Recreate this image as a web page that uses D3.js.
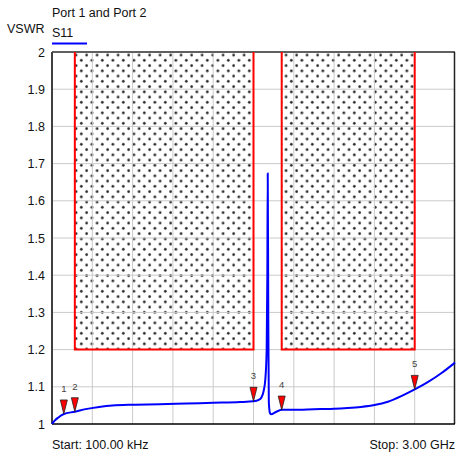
<!DOCTYPE html>
<html>
<head>
<meta charset="utf-8">
<script src="https://cdn.jsdelivr.net/npm/d3@7"></script>
<style>
  body { margin: 0; background: #fff; }
  svg { display: block; font-family: 'Liberation Sans', Arial, sans-serif; }
</style>
</head>
<body>
<div id="chart"></div>
<script>
// trace S11, frequency in MHz
var freq = [0.1, 20, 45, 88, 170, 250, 350, 450, 600, 800, 1000, 1200, 1400, 1500,
    1540, 1560, 1575, 1588, 1598, 1603, 1606, 1610, 1614, 1622, 1630, 1670, 1715,
    1800, 1900, 2000, 2100, 2200, 2300, 2400, 2500, 2600, 2700, 2800, 2900, 3000];
var vswr = [1.000, 1.009, 1.017, 1.027, 1.033, 1.040, 1.046, 1.050, 1.052, 1.053, 1.055, 1.057, 1.059, 1.061,
    1.065, 1.072, 1.088, 1.12, 1.2, 1.4, 1.674, 1.3, 1.06, 1.03, 1.026, 1.033, 1.038,
    1.038, 1.039, 1.040, 1.041, 1.043, 1.046, 1.051, 1.060, 1.075, 1.093, 1.113, 1.137, 1.165];

// limit masks
var maskStart = [170, 1710];
var maskEnd = [1500, 2700];
var maskLimit = 1.2;

// markers
var markerNames = ['1', '2', '3', '4', '5'];
var markerFreq = [88, 170, 1500, 1710, 2700];

var yTicks = [1, 1.1, 1.2, 1.3, 1.4, 1.5, 1.6, 1.7, 1.8, 1.9, 2];
var xTicks = [0, 300, 600, 900, 1200, 1500, 1800, 2100, 2400, 2700, 3000];

var W = 456, H = 459;
var m = { left: 52, right: 1, top: 52, bottom: 35 };

var svg = d3.select('#chart').append('svg')
    .attr('width', W)
    .attr('height', H);

var x = d3.scaleLinear().domain([0, 3000]).range([m.left, W - m.right]);
var y = d3.scaleLinear().domain([1, 2]).range([H - m.bottom, m.top]);

// dotted fill for the masks
var pat = svg.append('defs').append('pattern')
    .attr('id', 'dots')
    .attr('patternUnits', 'userSpaceOnUse')
    .attr('width', 10.5)
    .attr('height', 10.5);
pat.append('circle').attr('cx', 2.6).attr('cy', 2.6).attr('r', 1.35).style('fill', '#2a2a2a');
pat.append('circle').attr('cx', 7.85).attr('cy', 7.85).attr('r', 1.35).style('fill', '#2a2a2a');

maskStart.forEach(function (s, i) {
    svg.append('rect')
        .attr('x', x(s))
        .attr('y', y(2))
        .attr('width', x(maskEnd[i]) - x(s))
        .attr('height', y(maskLimit) - y(2))
        .style('fill', 'url(#dots)');
});

// grid
svg.append('g')
    .selectAll('line')
    .data(xTicks.slice(1, -1))
    .join('line')
    .attr('x1', d => x(d)).attr('x2', d => x(d))
    .attr('y1', y(2)).attr('y2', y(1))
    .style('stroke', '#cacaca')
    .style('stroke-width', '1px');

svg.append('g')
    .selectAll('line')
    .data(yTicks.slice(1, -1))
    .join('line')
    .attr('x1', x(0)).attr('x2', x(3000))
    .attr('y1', d => y(d)).attr('y2', d => y(d))
    .style('stroke', '#cacaca')
    .style('stroke-width', '1px');

// frame
svg.append('line')
    .attr('x1', x(0)).attr('x2', x(3000)).attr('y1', y(2)).attr('y2', y(2))
    .style('stroke', '#606060').style('stroke-width', '2px');
svg.append('line')
    .attr('x1', x(0)).attr('x2', x(0)).attr('y1', y(2)).attr('y2', y(1))
    .style('stroke', '#404040').style('stroke-width', '2px');
svg.append('line')
    .attr('x1', x(3000) - 0.5).attr('x2', x(3000) - 0.5).attr('y1', y(2)).attr('y2', y(1))
    .style('stroke', '#222').style('stroke-width', '1.5px');
svg.append('line')
    .attr('x1', x(0)).attr('x2', x(3000)).attr('y1', y(1)).attr('y2', y(1))
    .style('stroke', '#000').style('stroke-width', '1.5px');

// red limit lines
maskStart.forEach(function (s, i) {
    svg.append('path')
        .attr('d', d3.line()([
            [x(s), y(2)], [x(s), y(maskLimit)],
            [x(maskEnd[i]), y(maskLimit)], [x(maskEnd[i]), y(2)]
        ]))
        .style('fill', 'none')
        .style('stroke', '#ff0000')
        .style('stroke-width', '2px');
});

// y labels
svg.append('g')
    .selectAll('text')
    .data(yTicks)
    .join('text')
    .attr('x', 45)
    .attr('y', d => y(d) + 4.5)
    .attr('text-anchor', 'end')
    .style('font-size', '12.5px')
    .style('fill', '#111')
    .text(d => (d === 1 || d === 2) ? d : d.toFixed(1));

// trace
var pts = freq.map((f, i) => [x(f), y(vswr[i])]);
svg.append('path')
    .attr('d', d3.line().curve(d3.curveMonotoneX)(pts))
    .style('fill', 'none')
    .style('stroke', '#0000ff')
    .style('stroke-width', '2px')
    .style('stroke-linejoin', 'round');

// markers sit on the trace
var bis = d3.bisector(d => d).left;
function valueAt(f) {
    var i = Math.max(1, bis(freq, f));
    var t = (f - freq[i - 1]) / (freq[i] - freq[i - 1]);
    return vswr[i - 1] + t * (vswr[i] - vswr[i - 1]);
}

markerFreq.forEach(function (f, i) {
    var mx = x(f), my = y(valueAt(f));
    svg.append('path')
        .attr('d', d3.line()([[mx, my], [mx - 3.5, my - 14], [mx + 3.5, my - 14]]) + 'Z')
        .style('fill', '#ff0000')
        .style('stroke', '#222')
        .style('stroke-width', '0.8px');
    svg.append('text')
        .attr('x', mx)
        .attr('y', my - 22)
        .attr('text-anchor', 'middle')
        .style('font-size', '9.5px')
        .style('fill', '#444')
        .text(markerNames[i]);
});

// titles
svg.append('text').attr('x', 52).attr('y', 16.5)
    .style('font-size', '12.5px').style('fill', '#111').text('Port 1 and Port 2');
svg.append('text').attr('x', 7).attr('y', 33)
    .style('font-size', '12.5px').style('fill', '#111').text('VSWR');
svg.append('text').attr('x', 52).attr('y', 37)
    .style('font-size', '12.5px').style('fill', '#111').text('S11');
svg.append('line')
    .attr('x1', 52).attr('x2', 87).attr('y1', 43.5).attr('y2', 43.5)
    .style('stroke', '#0000ff').style('stroke-width', '2px');

svg.append('text').attr('x', 52).attr('y', 449)
    .style('font-size', '12.5px').style('fill', '#111').text('Start: 100.00 kHz');
svg.append('text').attr('x', 455).attr('y', 449)
    .attr('text-anchor', 'end')
    .style('font-size', '12.5px').style('fill', '#111').text('Stop: 3.00 GHz');
</script>
</body>
</html>
